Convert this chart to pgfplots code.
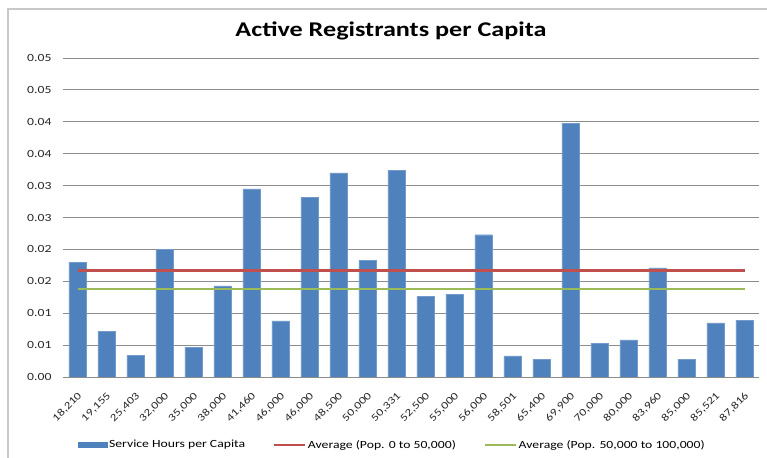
\documentclass[border=0pt]{standalone}
\usepackage{pgfplots}
\pgfplotsset{compat=1.18}
\usepackage{fontspec}
\setmainfont{Carlito}[FakeStretch=1.25]
\definecolor{barblue}{HTML}{4F81BD}
\definecolor{avgred}{HTML}{C0504D}
\definecolor{avggreen}{HTML}{9BBB59}
\definecolor{gridgray}{HTML}{8C8C8C}
\definecolor{framegray}{HTML}{C8C8C8}
\pgfplotstableread{
x y
0 0.0180
1 0.0071
2 0.0034
3 0.0200
4 0.0047
5 0.0143
6 0.0295
7 0.0088
8 0.0282
9 0.0320
10 0.0183
11 0.0324
12 0.0126
13 0.0130
14 0.0223
15 0.0033
16 0.0028
17 0.0398
18 0.0053
19 0.0058
20 0.0171
21 0.0028
22 0.0085
23 0.0089
}\bars
\begin{document}
\begin{tikzpicture}[x=1bp,y=1bp]
\path[use as bounding box] (0,0) rectangle (767,458);
\draw[color=framegray, line width=1.5bp] (8,0) -- (8,449) -- (767,449);
\node[font=\fontsize{21}{24}\selectfont\bfseries] at (391,427) {Active Registrants per Capita};
\begin{axis}[
  at={(63bp,81bp)}, anchor=south west, scale only axis,
  width=696bp, height=319bp,
  xmin=-0.5, xmax=23.5, ymin=0, ymax=0.05,
  axis lines*=left,
  x axis line style={draw=gridgray, line width=0.8bp},
  y axis line style={draw=none},
  major tick length=0pt,
  scaled y ticks=false,
  ymajorgrids, grid style={draw=gridgray, line width=0.8bp},
  ytick={0,0.005,0.01,0.015,0.02,0.025,0.03,0.035,0.04,0.045,0.05},
  yticklabels={0.00,0.01,0.01,0.02,0.02,0.03,0.03,0.04,0.04,0.05,0.05},
  xtick={0,...,23},
  xticklabels={18{,}210,19{,}155,25{,}403,32{,}000,35{,}000,38{,}000,41{,}460,46{,}000,46{,}000,48{,}500,50{,}000,50{,}331,52{,}500,55{,}000,56{,}000,58{,}501,65{,}400,69{,}900,70{,}000,80{,}000,83{,}960,85{,}000,85{,}521,87{,}816},
  tick label style={font=\fontsize{11}{13}\selectfont, text=black!85},
  y tick label style={xshift=-8bp},
  x tick label style={font=\fontsize{10.5}{12}\selectfont, xshift=5bp, yshift=-15bp, rotate=45, anchor=east},
  /pgf/number format/assume math mode=true,
  legend style={at={(0.473,-0.213)}, anchor=center, draw=none, fill=none,
    font=\fontsize{11}{13}\selectfont, legend columns=3,
    nodes={inner sep=1.5bp}},
  /tikz/every even column/.append style={column sep=26bp},
  legend cell align=left,
]
\addplot[ybar, bar width=0.6, bar shift=0pt, fill=barblue, draw=barblue!80!white,
  legend image code/.code={\fill[barblue] (0bp,-2.5bp) rectangle (29bp,2.5bp);}]
  table[x=x, y=y] {\bars};
\addlegendentry{Service Hours per Capita}
\addplot[avgred, line width=2.5bp,
  legend image code/.code={\draw[avgred, line width=2.8bp] (0bp,0bp) -- (31bp,0bp);}]
  coordinates {(0,0.0167) (23,0.0167)};
\addlegendentry{Average (Pop. 0 to 50,000)}
\addplot[avggreen, line width=2.5bp,
  legend image code/.code={\draw[avggreen, line width=2.8bp] (0bp,0bp) -- (31bp,0bp);}]
  coordinates {(0,0.0138) (23,0.0138)};
\addlegendentry{Average (Pop. 50,000 to 100,000)}
\end{axis}
\end{tikzpicture}
\end{document}
